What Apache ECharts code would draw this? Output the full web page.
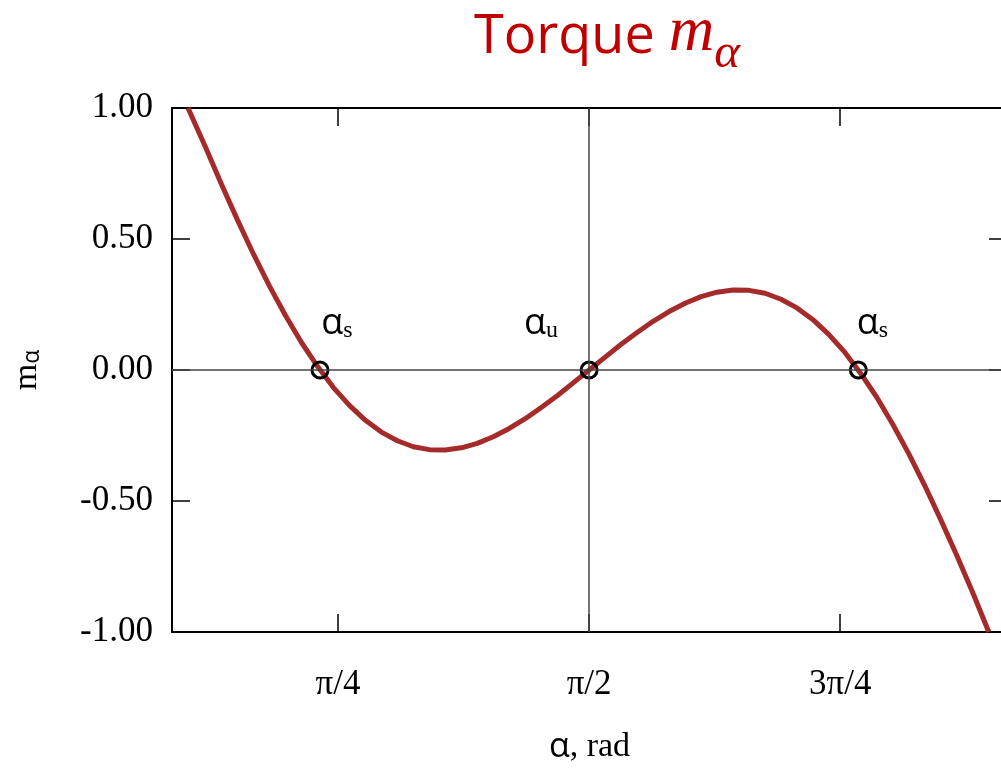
<!DOCTYPE html>
<html>
<head>
<meta charset="utf-8">
<script src="https://cdn.jsdelivr.net/npm/echarts@6/dist/echarts.min.js"></script>
<style>html,body{margin:0;padding:0;background:#fff;}#c{width:1001px;height:770px;}</style>
</head>
<body>
<div id="c"></div>
<script>
// α in radians, torque m_α
const alphaRad = [0.316, 0.371, 0.421, 0.471, 0.521, 0.571, 0.621, 0.671, 0.721, 0.771, 0.821, 0.871, 0.921, 0.971,
  1.021, 1.071, 1.121, 1.171, 1.221, 1.271, 1.321, 1.371, 1.421, 1.471, 1.521, 1.571,
  1.621, 1.671, 1.721, 1.771, 1.821, 1.871, 1.921, 1.971, 2.021, 2.071, 2.121, 2.171, 2.221, 2.271,
  2.321, 2.371, 2.421, 2.471, 2.521, 2.571, 2.621, 2.671, 2.721, 2.771, 2.821];
const torque = [1.00, 0.850, 0.708, 0.572, 0.442, 0.320, 0.208, 0.105, 0.014, -0.067, -0.135, -0.192, -0.237, -0.270,
  -0.293, -0.304, -0.305, -0.297, -0.280, -0.255, -0.223, -0.186, -0.143, -0.098, -0.049, 0.0,
  0.049, 0.098, 0.143, 0.186, 0.223, 0.255, 0.280, 0.297, 0.305, 0.304, 0.293, 0.270, 0.237, 0.192,
  0.135, 0.067, -0.014, -0.105, -0.208, -0.320, -0.442, -0.572, -0.708, -0.850, -1.00];
// equilibrium points
const eqAlpha = [0.729, 1.5708, 2.413];
const eqTorque = [0, 0, 0];
const eqSub = ['s', 'u', 's'];
// x tick positions and labels
const xTickValues = [Math.PI / 4, Math.PI / 2, 3 * Math.PI / 4];
const xTickLabels = ['π/4', 'π/2', '3π/4'];

const SERIF = '"Liberation Serif", "Times New Roman", serif';
const SANS = '"Open Sans", "Noto Sans", sans-serif';

const chart = echarts.init(document.getElementById('c'), null, {renderer: 'canvas'});
const curve = alphaRad.map((a, i) => [a, torque[i]]);
const eqData = eqAlpha.map((a, i) => ({value: [a, eqTorque[i]], sub: eqSub[i]}));

const axisLineStyle = {color: '#000', width: 2};
const tickStyle = {color: '#000', width: 1.5};

chart.setOption({
  animation: false,
  title: {
    text: '{a|Torque }{m|m}{s|α}',
    left: 469, top: -10,
    textStyle: {
      fontWeight: 'normal',
      rich: {
        a: {fontFamily: SANS, fontWeight: 'normal', fontSize: 54, color: '#c00000', lineHeight: 70, verticalAlign: 'bottom'},
        m: {fontFamily: SERIF, fontStyle: 'italic', fontWeight: 'normal', fontSize: 63, color: '#c00000', lineHeight: 70, verticalAlign: 'bottom'},
        s: {fontFamily: SERIF, fontStyle: 'italic', fontWeight: 'normal', fontSize: 49, color: '#c00000', lineHeight: 70, verticalAlign: 'bottom', padding: [0, 0, -14, 0]}
      }
    }
  },
  grid: {left: 172, top: 108, width: 835, height: 524, containLabel: false, outerBoundsMode: 'none'},
  xAxis: [{
    type: 'value', min: 0.266, max: 2.878, position: 'bottom',
    name: '{a|α}{b|, rad}', nameLocation: 'middle', nameGap: 98,
    nameTextStyle: {rich: {a: {fontFamily: SANS, fontSize: 34, color: '#000'}, b: {fontFamily: SERIF, fontSize: 34, color: '#000'}}},
    axisLine: {show: true, onZero: false, lineStyle: axisLineStyle},
    axisTick: {show: true, inside: true, length: 18, customValues: xTickValues, lineStyle: tickStyle},
    axisLabel: {show: true, customValues: xTickValues, margin: 35, fontFamily: SERIF, fontSize: 35, color: '#000',
      formatter: v => { const i = xTickValues.findIndex(t => Math.abs(t - v) < 1e-6); return i >= 0 ? xTickLabels[i] : ''; }},
    splitLine: {show: false}
  }, {
    type: 'value', min: 0.266, max: 2.878, position: 'top',
    axisLine: {show: true, onZero: false, lineStyle: axisLineStyle},
    axisTick: {show: true, inside: true, length: 18, customValues: xTickValues, lineStyle: tickStyle},
    axisLabel: {show: false},
    splitLine: {show: false}
  }],
  yAxis: [{
    type: 'value', min: -1, max: 1, interval: 0.5, position: 'left',
    name: '{m|m}{a|α}', nameLocation: 'middle', nameGap: 128, nameRotate: 90,
    nameTextStyle: {rich: {m: {fontFamily: SERIF, fontSize: 34, color: '#000'}, a: {fontFamily: SANS, fontSize: 23, color: '#000', padding: [10, 0, 0, 0]}}},
    axisLine: {show: true, onZero: false, lineStyle: axisLineStyle},
    axisTick: {show: true, inside: true, length: 18, lineStyle: tickStyle},
    axisLabel: {show: true, margin: 19, fontFamily: SERIF, fontSize: 35, color: '#000', formatter: v => v.toFixed(2)},
    splitLine: {show: false}
  }, {
    type: 'value', min: -1, max: 1, interval: 0.5, position: 'right',
    axisLine: {show: true, onZero: false, lineStyle: axisLineStyle},
    axisTick: {show: true, inside: true, length: 18, lineStyle: tickStyle},
    axisLabel: {show: false},
    splitLine: {show: false}
  }],
  series: [{
    type: 'line', data: curve, smooth: false, showSymbol: false, symbol: 'none',
    lineStyle: {color: '#a52a2a', width: 5}, z: 3,
    markLine: {
      silent: true, symbol: 'none', label: {show: false},
      lineStyle: {color: '#444', width: 1.5, type: 'solid'},
      data: [{yAxis: 0}, {xAxis: Math.PI / 2}]
    }
  }, {
    type: 'scatter', data: eqData, symbol: 'circle', symbolSize: 16, z: 4,
    itemStyle: {color: 'rgba(0,0,0,0)', borderColor: '#000', borderWidth: 3, opacity: 1},
    label: {
      show: true, position: 'top', distance: 18, opacity: 1,
      formatter: p => '{a|α}{s|' + p.data.sub + '}',
      rich: {
        a: {fontFamily: SANS, fontSize: 36, color: '#000'},
        s: {fontFamily: SERIF, fontSize: 24, color: '#000', padding: [14, 0, 0, 0]}
      }
    },
    labelLayout: p => {
      const offs = [[17, 0], [-48, 0], [14, 0]];
      return {dx: offs[p.dataIndex][0], dy: offs[p.dataIndex][1]};
    }
  }]
});
</script>
</body>
</html>
